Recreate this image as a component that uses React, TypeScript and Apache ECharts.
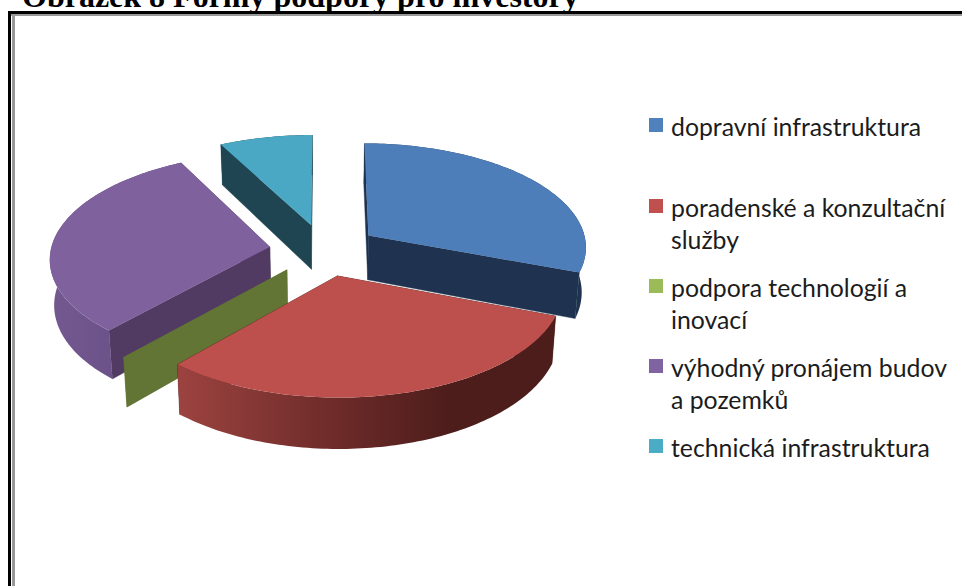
import React, { useEffect, useRef } from "react";
import * as echarts from "echarts";

const titleText = "Obrázek 8 Formy podpory pro investory";
const sliceNames = [
  "dopravní infrastruktura",
  "poradenské a konzultační\nslužby",
  "podpora technologií a\ninovací",
  "výhodný pronájem budov\na pozemků",
  "technická infrastruktura",
];
const sliceValues = [30.8, 30.8, 0, 30.8, 7.7];
const swatchColors = ["#4F81BD", "#C0504D", "#9BBB59", "#8064A2", "#4BACC6"];
const topColors = ["#4D7EBA", "#BD504C", "#9BBB59", "#7F619E", "#4AA8C4"];
const radialWallColors = ["#1F3350", "#4E1D1B", "#637535", "#523B63", "#1E4551"];
const outerWallStops: [number, string][][] = [
  [[0, "#1F3350"], [1, "#1F3350"]],
  [[0, "#9C4340"], [0.4, "#6F2C2A"], [0.72, "#4D1D1B"], [1, "#4D1D1B"]],
  [[0, "#637535"], [1, "#637535"]],
  [[0, "#73598F"], [1, "#634A80"]],
  [[0, "#1E4551"], [1, "#1E4551"]],
];
const paintOrder = [2, 4, 3, 1, 0];

// projection of the exploded tilted pie
const CX = 324, CY = 250, RX = 219, RY = 104, PERSP = 0.1, DEPTH = 45, SHRINK = 0.984, EXPLODE = 0.25;

const total = sliceValues.reduce((a, b) => a + b, 0);
const project = (u: number, v: number, bottom: boolean): number[] => {
  const p = 1 / (1 - PERSP * v);
  let x = CX + RX * u * p;
  let y = CY + RY * v * p;
  if (bottom) {
    x = CX + (x - CX) * SHRINK;
    y += DEPTH * p;
  }
  return [x, y];
};

const renderSlice = (params: any, api: any) => {
  const i = params.dataIndex;
  const before = sliceValues.slice(0, i).reduce((a, b) => a + b, 0);
  const a0 = (before / total) * Math.PI * 2;
  const a1 = ((before + api.value(0)) / total) * Math.PI * 2;
  const mid = (a0 + a1) / 2;
  const ou = EXPLODE * Math.sin(mid);
  const ov = -EXPLODE * Math.cos(mid);
  const steps = Math.max(1, Math.ceil((a1 - a0) / 0.02));
  const arc: number[][] = [];
  for (let s = 0; s <= steps; s++) {
    const a = a0 + ((a1 - a0) * s) / steps;
    arc.push([ou + Math.sin(a), ov - Math.cos(a)]);
  }
  const topArc = arc.map((q) => project(q[0], q[1], false));
  const botArc = arc.map((q) => project(q[0], q[1], true));
  const apexT = project(ou, ov, false);
  const apexB = project(ou, ov, true);
  const z = paintOrder[i] * 10;
  const children: any[] = [];
  const wallStyle = { fill: radialWallColors[i], stroke: radialWallColors[i], lineWidth: 0.4 };
  children.push({
    type: "polygon",
    z2: z,
    shape: { points: [apexT, topArc[0], botArc[0], apexB] },
    style: wallStyle,
  });
  children.push({
    type: "polygon",
    z2: z + 1,
    shape: { points: [apexT, topArc[topArc.length - 1], botArc[botArc.length - 1], apexB] },
    style: wallStyle,
  });
  if (a1 > a0) {
    children.push({
      type: "polygon",
      z2: z + 2,
      shape: { points: topArc.concat(botArc.slice().reverse()) },
      style: {
        fill: new echarts.graphic.LinearGradient(0, 0, 1, 0, outerWallStops[i].map(([offset, color]) => ({ offset, color }))),
      },
    });
    children.push({
      type: "polygon",
      z2: z + 3,
      shape: { points: [apexT].concat(topArc) },
      style: { fill: topColors[i] },
    });
  }
  return { type: "group", children };
};

const legendFirstLineY = [126, 207, 287, 367, 447];
const LEGEND_SWATCH_X = 649, LEGEND_TEXT_X = 671, LEGEND_LINE = 32, SWATCH = 14;

export default function App() {
  const ref = useRef<HTMLDivElement>(null);
  useEffect(() => {
    const chart = echarts.init(ref.current!, null, { renderer: "svg" });
    const legendGraphics: any[] = [];
    sliceNames.forEach((name, i) => {
      legendGraphics.push({
        type: "rect",
        z: 5,
        shape: { x: LEGEND_SWATCH_X, y: legendFirstLineY[i] - SWATCH / 2 - 1, width: SWATCH, height: SWATCH },
        style: { fill: swatchColors[i] },
      });
      legendGraphics.push({
        type: "text",
        z: 5,
        style: {
          x: LEGEND_TEXT_X,
          y: legendFirstLineY[i] - LEGEND_LINE / 2,
          text: name,
          fill: "#1c1c1c",
          font: '24.8px Lato, "Noto Sans", sans-serif',
          lineHeight: LEGEND_LINE,
          textAlign: "left",
          textVerticalAlign: "top",
        },
      });
    });
    chart.setOption({
      animation: false,
      backgroundColor: "#FFFFFF",
      graphic: [
        { type: "rect", z: 6, shape: { x: 8, y: 11, width: 954, height: 3 }, style: { fill: "#000000" } },
        { type: "rect", z: 6, shape: { x: 11, y: 14, width: 951, height: 2 }, style: { fill: "#999999" } },
        { type: "rect", z: 6, shape: { x: 8, y: 11, width: 3, height: 575 }, style: { fill: "#000000" } },
        { type: "rect", z: 6, shape: { x: 12, y: 14, width: 3, height: 572 }, style: { fill: "#999999" } },
        {
          type: "text",
          z: 4,
          style: {
            x: 22,
            y: -20,
            text: titleText,
            fill: "#000000",
            font: 'bold 32px "Liberation Serif", serif',
            textAlign: "left",
            textVerticalAlign: "top",
          },
        },
        ...legendGraphics,
      ],
      series: [
        {
          type: "custom",
          coordinateSystem: "none",
          renderItem: renderSlice,
          data: sliceNames.map((name, i) => ({ name, value: [sliceValues[i]] })),
          silent: true,
        },
      ],
    });
    return () => chart.dispose();
  }, []);
  return <div ref={ref} style={{ position: "absolute", left: 0, top: 0, width: 962, height: 586 }} />;
}
